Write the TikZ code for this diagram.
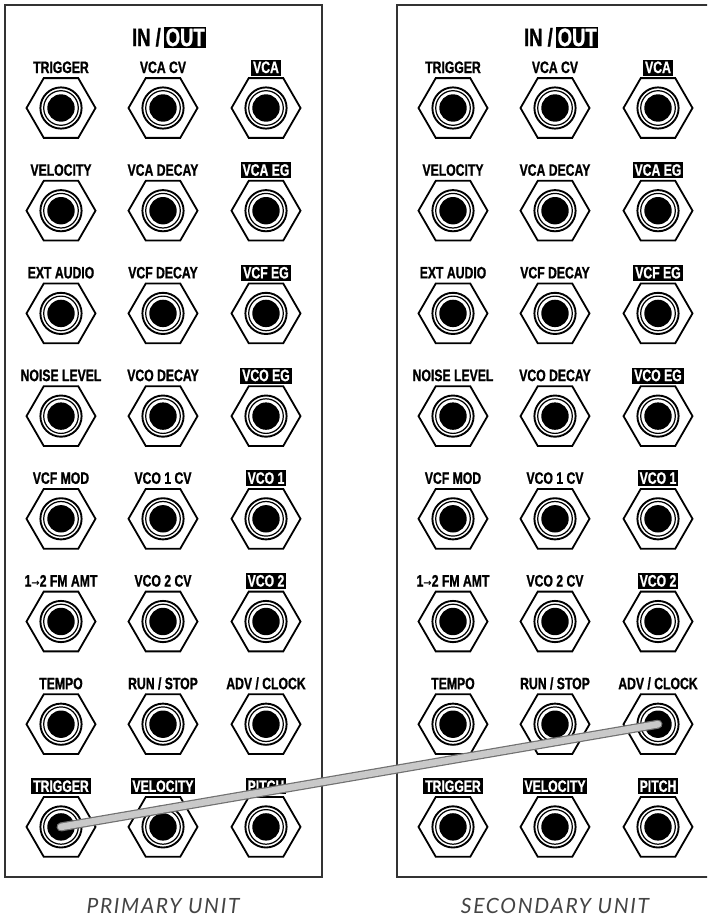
\documentclass[tikz,border=0pt]{standalone}
\usepackage{fontspec}
\usetikzlibrary{positioning,shapes.geometric}
\newfontfamily\jackfont[FakeStretch=0.74, BoldFeatures={FakeBold=1}]{Liberation Sans}
\newfontfamily\unitfont[LetterSpace=8]{Lato}
\newfontfamily\symfont{DejaVu Sans}
\definecolor{panelline}{HTML}{333333}
\definecolor{cablefill}{HTML}{C9C9C9}
\definecolor{cableedge}{HTML}{707070}
\definecolor{unitgray}{HTML}{444444}
\tikzset{
  panel/.style={draw=panelline, line width=1.3pt},
  hexnut/.style={draw, line width=1.8pt, regular polygon, regular polygon sides=6, minimum size=69pt, inner sep=0pt},
  plain/.style={font=\jackfont\bfseries\fontsize{16.5}{17}\selectfont, anchor=base, inner xsep=1.8pt, inner ysep=2.5pt, text height=11pt, text depth=0pt},
  inverted/.style={plain, fill=black, text=white},
  titlein/.style={font=\jackfont\bfseries\fontsize{25}{26}\selectfont, anchor=base east, inner xsep=0pt, inner ysep=2pt, text height=17pt, text depth=0pt},
  titleout/.style={titlein, anchor=base west, fill=black, text=white, inner xsep=1.5pt},
  unitlabel/.style={font=\unitfont\itshape\fontsize{21}{22}\selectfont, text=unitgray},
  cable/.style={draw=cableedge, line width=9pt, line cap=round, postaction={draw=cablefill, line width=6.6pt}}
}
\begin{document}
\begin{tikzpicture}[x=1pt,y=-1pt]
\useasboundingbox (0,0) rectangle (707,918);
\clip (0,0) rectangle (707,918);
\draw[panel] (5,5) rectangle (322,877);
\draw[panel] (397,5) rectangle (715,877);
\node[titlein] (inL) at (161,46) {IN /};
\node[titleout, right=3pt of inL.base east, anchor=base west] (outL) {OUT};
\node[titlein] (inR) at (553,46) {IN /};
\node[titleout, right=3pt of inR.base east, anchor=base west] (outR) {OUT};
\foreach \p/\dx in {L/0,R/392}{
  \foreach \c/\x in {1/61,2/163,3/266}{
    \foreach \r in {1,...,8}{
      \node[hexnut] (\p-\c-\r) at ({\x+\dx},{108+102.7*(\r-1)}) {};
      \fill[black] (\p-\c-\r.center) circle[radius=13.7pt];
      \draw[line width=1.2pt] (\p-\c-\r.center) circle[radius=17.3pt];
      \draw[line width=1.9pt] (\p-\c-\r.center) circle[radius=20.6pt];
    }
  }
  \foreach \c/\r/\s/\t in {1/1/plain/TRIGGER, 2/1/plain/VCA CV, 3/1/inverted/VCA,
      1/2/plain/VELOCITY, 2/2/plain/VCA DECAY, 3/2/inverted/VCA EG,
      1/3/plain/EXT AUDIO, 2/3/plain/VCF DECAY, 3/3/inverted/VCF EG,
      1/4/plain/NOISE LEVEL, 2/4/plain/VCO DECAY, 3/4/inverted/VCO EG,
      1/5/plain/VCF MOD, 2/5/plain/VCO 1 CV, 3/5/inverted/VCO 1,
      1/6/plain/1{\symfont\fontsize{10}{10}\selectfont →}2 FM AMT, 2/6/plain/VCO 2 CV, 3/6/inverted/VCO 2,
      1/7/plain/TEMPO, 2/7/plain/{RUN / STOP}, 3/7/plain/{ADV / CLOCK},
      1/8/inverted/TRIGGER, 2/8/inverted/VELOCITY, 3/8/inverted/PITCH}{
    \node[\s] (\p-\c-\r-lab) at ([yshift=35pt]\p-\c-\r.center) {\t};
  }
}
\draw[cable] (L-1-8.center) -- (R-3-7.center);
\node[unitlabel] (primary) at (163,906) {PRIMARY UNIT};
\node[unitlabel] (secondary) at (555,906) {SECONDARY UNIT};
\end{tikzpicture}
\end{document}
